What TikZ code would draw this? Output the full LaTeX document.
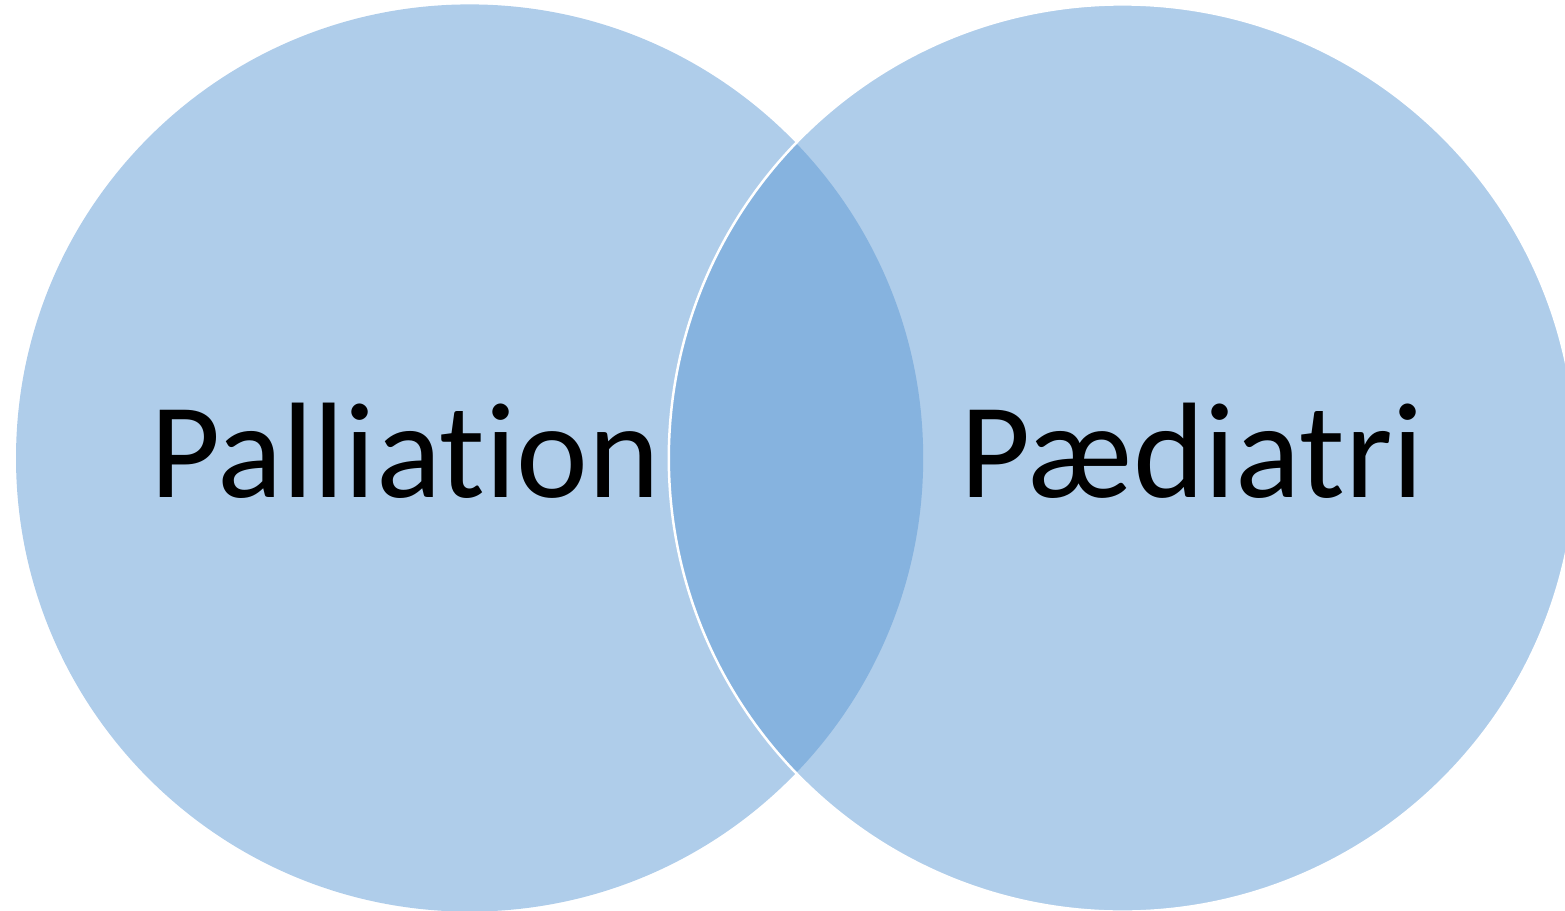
\documentclass[tikz,border=0pt]{standalone}
\usepackage{fontspec}
\setmainfont[Ligatures=NoCommon]{Carlito}
\definecolor{venn}{HTML}{AFCDEA}
\definecolor{vennmid}{HTML}{86B3DF}
\begin{document}
\begin{tikzpicture}[x=1pt,y=-1pt,
        every node/.style={inner sep=0pt},
        set/.style={circle,fill=venn,minimum size=907.2pt},
        word/.style={anchor=base,font=\fontsize{136}{160}\selectfont}]
    \useasboundingbox (0,0) rectangle (1565,910);
    \begin{scope}
        \clip (0,0) rectangle (1565,910);
        \node[set] (pal) at (469.6,458) {};
        \node[set] (paed) at (1122.4,458) {};
        \begin{scope}
            \clip (469.6,458) circle (453.6);
            \fill[vennmid] (1122.4,458) circle (453.6);
        \end{scope}
        \draw[white,line width=2.5pt] (paed) circle (453.6);
    \end{scope}

    \node[word] (palt) at (405,497) {Palliation};
    \node[word] (paedt) at (1192,497) {Pædiatri};
\end{tikzpicture}
\end{document}
